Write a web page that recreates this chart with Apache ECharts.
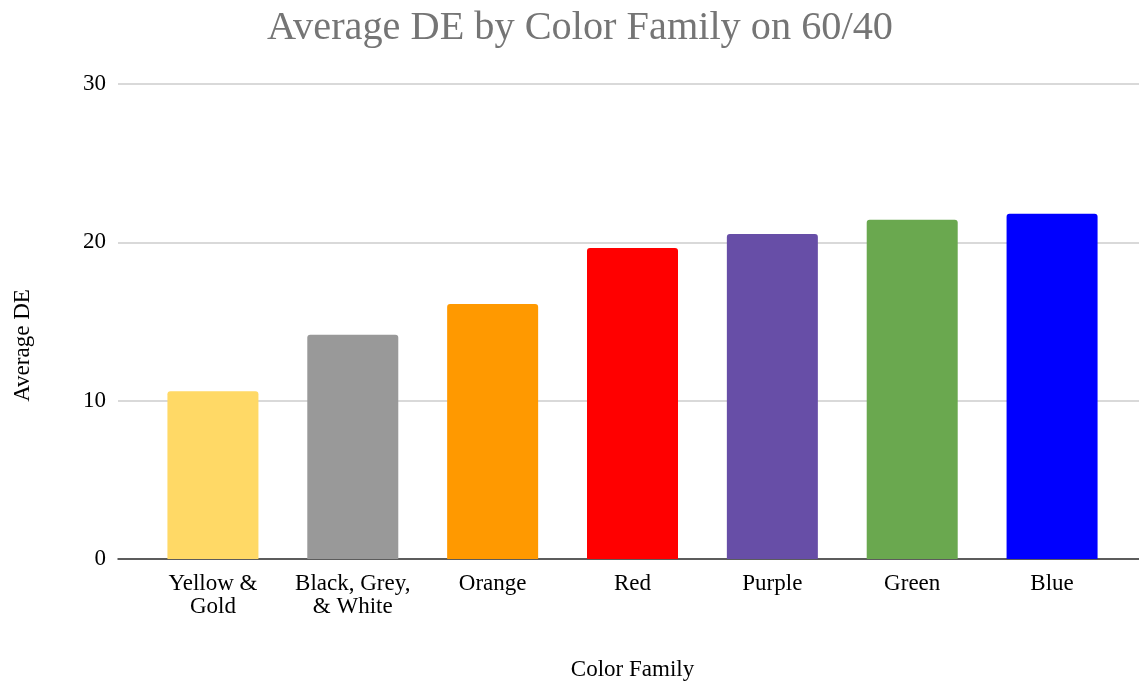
<!DOCTYPE html>
<html>
<head>
<meta charset="utf-8">
<title>Average DE by Color Family on 60/40</title>
<script src="https://cdn.jsdelivr.net/npm/echarts@6/dist/echarts.min.js"></script>
<style>
  html, body { margin: 0; padding: 0; background: #ffffff; }
  #chart { width: 1139px; height: 682px; }
</style>
</head>
<body>
<div id="chart"></div>
<script>
// Color families, ordered by average DE
const categories = ['Yellow &\nGold', 'Black, Grey,\n& White', 'Orange', 'Red', 'Purple', 'Green', 'Blue'];
const averageDE = [10.6, 14.16, 16.1, 19.65, 20.52, 21.42, 21.8];
const barColors = ['#FFD966', '#999999', '#FF9900', '#FF0000', '#674EA7', '#6AA84F', '#0000FF'];
const yTicks = { min: 0, max: 30, interval: 10 };

const serif = "'Liberation Serif', 'Times New Roman', serif";
const chart = echarts.init(document.getElementById('chart'), null, { renderer: 'canvas' });

const barData = averageDE.map((v, i) => ({
  value: v,
  itemStyle: { color: barColors[i] }
}));

chart.setOption({
  animation: false,
  backgroundColor: '#ffffff',
  title: {
    text: 'Average DE by Color Family on 60/40',
    left: 575,
    top: 3,
    textAlign: 'center',
    textStyle: { fontFamily: serif, fontSize: 40.3, fontWeight: 'normal', color: '#757575' }
  },
  grid: [
    // full-width grid carrying the value axis, gridlines and baseline
    { left: 118, right: 0, top: 84, height: 475, containLabel: false, outerBoundsMode: 'none' },
    // inset grid carrying the bars and category labels
    { left: 143, right: 17, top: 84, height: 475, containLabel: false, outerBoundsMode: 'none' }
  ],
  xAxis: [
    {
      gridIndex: 0, type: 'category', data: categories,
      axisLine: { show: true, lineStyle: { color: '#333333', width: 1.5 } },
      axisTick: { show: false }, axisLabel: { show: false }, splitLine: { show: false }
    },
    {
      gridIndex: 1, type: 'category', data: categories,
      axisLine: { show: false }, axisTick: { show: false },
      axisLabel: {
        fontFamily: serif, fontSize: 23, lineHeight: 23.5, color: '#000000',
        margin: 13, interval: 0
      },
      name: 'Color Family', nameLocation: 'middle', nameGap: 99,
      nameTextStyle: { fontFamily: serif, fontSize: 23, color: '#000000' }
    }
  ],
  yAxis: [
    {
      gridIndex: 0, type: 'value', min: yTicks.min, max: yTicks.max, interval: yTicks.interval,
      axisLine: { show: false }, axisTick: { show: false },
      axisLabel: { fontFamily: serif, fontSize: 23, color: '#000000', margin: 12 },
      splitLine: { lineStyle: { color: '#cccccc', width: 1.5 } },
      name: 'Average DE', nameLocation: 'middle', nameGap: 84, nameRotate: 90,
      nameTextStyle: { fontFamily: serif, fontSize: 23, color: '#000000', padding: [0, 48, 0, 0] }
    },
    {
      gridIndex: 1, type: 'value', min: yTicks.min, max: yTicks.max, interval: yTicks.interval,
      show: false, splitLine: { show: false }
    }
  ],
  series: [
    {
      type: 'bar', xAxisIndex: 1, yAxisIndex: 1,
      data: barData, barWidth: 91,
      itemStyle: { borderRadius: [3, 3, 0, 0] }
    }
  ]
});
</script>
</body>
</html>
